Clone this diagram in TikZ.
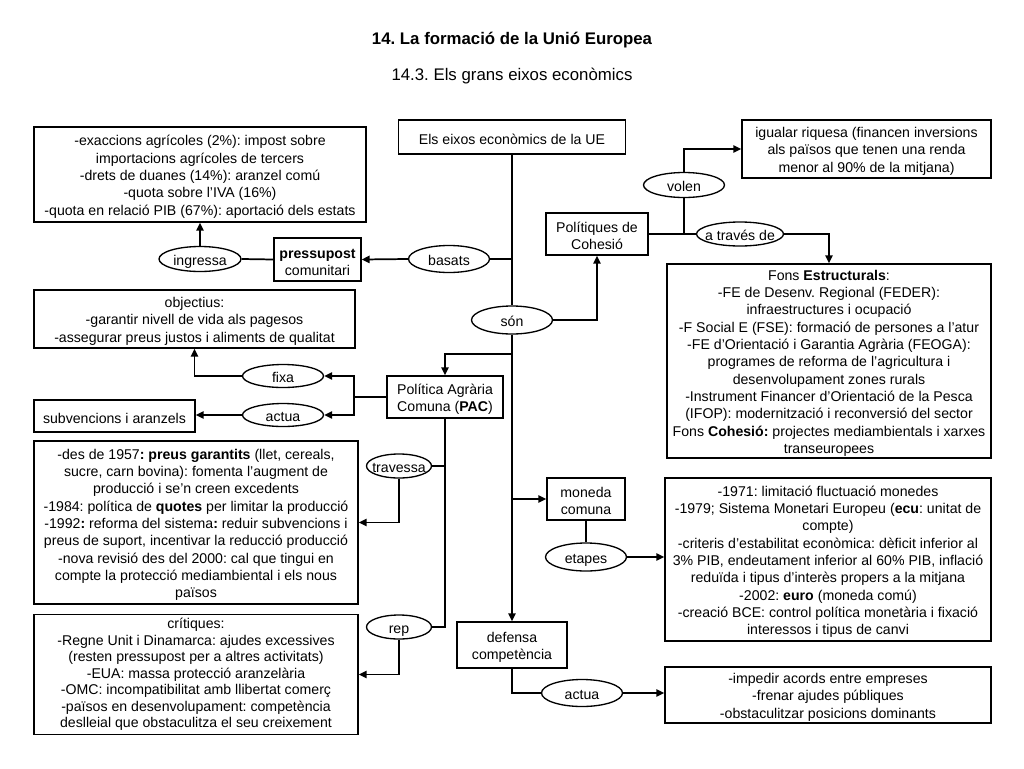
\documentclass[tikz,border=0pt]{standalone}
\usepackage{fontspec}
\setmainfont{Liberation Sans}
\usetikzlibrary{shapes.geometric,arrows.meta}
\frenchspacing
\tikzset{
  txt/.style={font=\fontsize{10.6}{13}\selectfont},
  box/.style 2 args={txt, draw, line width=1pt, rectangle, align=center, inner sep=0pt,
     minimum width=#1*0.75pt, minimum height=#2*0.75pt},
  oval/.style 2 args={txt, draw, line width=1pt, ellipse, inner sep=0pt,
     text height=10.5pt, text depth=1.5pt,
     minimum width=#1*0.75pt, minimum height=#2*0.75pt},
  conn/.style={line width=1.3pt},
  arr/.style={conn, -{Triangle[length=6pt,width=5.5pt]}},
}
\newcommand{\zw}[1]{\makebox[0pt]{#1}}
\newcommand{\fs}{\rule{0pt}{11pt}}
\begin{document}
\begin{tikzpicture}[x=0.75pt,y=-0.75pt]
\useasboundingbox (0,0) rectangle (1024,768);
% titles
\node[font=\fontsize{12.6}{15}\selectfont\bfseries] (title) at (512,40) {14. La formació de la Unió Europea};
\node[font=\fontsize{12.6}{15}\selectfont] (subtitle) at (512,76) {14.3. Els grans eixos econòmics};
% nodes
\node[box={227}{34}] (top) at (512,137) {\fs Els eixos econòmics de la UE};
\node[box={332}{95}] (A) at (200,174.5) {\fs-exaccions agrícoles (2\%): impost sobre\\importacions agrícoles de tercers\\-drets de duanes (14\%): aranzel comú\\-quota sobre l’IVA (16\%)\\-quota en relació PIB (67\%): aportació dels estats};
\node[oval={82}{25}] (ingressa) at (200,259) {\zw{ingressa}};
\node[box={87}{43}] (press) at (317.5,259.5) {\fs\textbf{pressupost}\\comunitari};
\node[oval={81}{27}] (basats) at (449,259) {\zw{basats}};
\node[oval={81}{28}] (son) at (512,320) {\zw{són}};
\node[box={102}{42}] (pol) at (597,234) {\fs Polítiques de\\Cohesió};
\node[oval={81}{25}] (volen) at (684,185) {\zw{volen}};
\node[oval={87}{24}] (trav) at (740,234) {\zw{a través de}};
\node[box={249}{58}] (igual) at (866.5,149) {\fs igualar riquesa (financen inversions\\als països que tenen una renda\\menor al 90\% de la mitjana)};
\node[box={324}{194}] (fons) at (829,361) {\fs Fons \textbf{Estructurals}:\\-FE de Desenv. Regional (FEDER):\\infraestructures i ocupació\\-F Social E (FSE): formació de persones a l’atur\\-FE d’Orientació i Garantia Agrària (FEOGA):\\programes de reforma de l’agricultura i\\desenvolupament zones rurals\\-Instrument Financer d’Orientació de la Pesca\\(IFOP): modernització i reconversió del sector\\Fons \textbf{Cohesió:} projectes mediambientals i xarxes\\transeuropees};
\node[box={321}{58}] (obj) at (194.5,319) {\fs objectius:\\-garantir nivell de vida als pagesos\\-assegurar preus justos i aliments de qualitat};
\node[oval={81}{23}] (fixa) at (283,376) {\zw{fixa}};
\node[oval={81}{23}] (actuaA) at (283,415) {\zw{actua}};
\node[box={161}{32}] (subv) at (114.5,416) {\fs subvencions i aranzels};
\node[box={116}{42}] (pac) at (445,397) {\fs Política Agrària\\Comuna (\textbf{PAC})};
\node[oval={65}{24}] (travessa) at (399,466) {\zw{travessa}};
\node[box={324}{163}] (B) at (196,522.5) {\fs-des de 1957\textbf{: preus garantits} (llet, cereals,\\sucre, carn bovina): fomenta l’augment de\\producció i se’n creen excedents\\-1984: política de \textbf{quotes} per limitar la producció\\-1992\textbf{:} reforma del sistema\textbf{:} reduir subvencions i\\preus de suport, incentivar la reducció producció\\-nova revisió des del 2000: cal que tingui en\\compte la protecció mediambiental i els nous\\països};
\node[oval={65}{24}] (rep) at (399,627) {\zw{rep}};
\node[box={324}{120}, font=\fontsize{10.6}{12.4}\selectfont] (C) at (196,674.5) {crítiques:\\-Regne Unit i Dinamarca: ajudes excessives\\(resten pressupost per a altres activitats)\\-EUA: massa protecció aranzelària\\-OMC: incompatibilitat amb llibertat comerç\\-països en desenvolupament: competència\\deslleial que obstaculitza el seu creixement};
\node[box={78}{42}] (moneda) at (586,499) {\fs moneda\\comuna};
\node[oval={81}{28}] (etapes) at (586,557) {\zw{etapes}};
\node[box={326}{163}] (D) at (828,559.5) {\fs-1971: limitació fluctuació monedes\\-1979; Sistema Monetari Europeu (\textbf{ecu}: unitat de\\compte)\\-criteris d’estabilitat econòmica: dèficit inferior al\\3\% PIB, endeutament inferior al 60\% PIB, inflació\\reduïda i tipus d’interès propers a la mitjana\\-2002: \textbf{euro} (moneda comú)\\-creació BCE: control política monetària i fixació\\interessos i tipus de canvi};
\node[box={110}{46}] (def) at (512,645) {\fs defensa\\competència};
\node[oval={81}{27}] (actuaB) at (582,693) {\zw{actua}};
\node[box={326}{56}] (E) at (828,695) {\fs-impedir acords entre empreses\\-frenar ajudes públiques\\-obstaculitzar posicions dominants};
% junctions
\coordinate (jpac) at (512,354);
\coordinate (jmon) at (512,499);
\coordinate (jvol) at (684,234);
\coordinate (k) at (354,397);
% connectors
\draw[conn] (top.south) -- (son.north);
\draw[conn] (basats.east) -- (basats.east -| top.south);
\draw[arr] (basats.west) -- (press.east);
\draw[conn] (press.west) -- (ingressa.east);
\draw[arr] (ingressa.north) -- (A.south);
\draw[arr] (son.east) -| (pol.south);
\draw[arr] (son.south) -- (def.north);
\draw[arr] (jpac) -| (pac.north);
\draw[arr] (jmon) -- (moneda.west);
\draw[conn] (moneda.south) -- (etapes.north);
\draw[arr] (etapes.east) -- (etapes.east -| D.west);
\draw[conn] (pol.east |- trav.west) -- (trav.west);
\draw[arr] (trav.east) -| (fons.north);
\draw[conn] (jvol) -- (volen.south);
\draw[arr] (volen.north) |- (igual.west);
\draw[conn] (pac.west) -- (k);
\draw[arr] (k) |- (fixa.east);
\draw[arr] (k) |- (actuaA.east);
\draw[arr] (fixa.west) -| (obj.south);
\draw[arr] (actuaA.west) -- (actuaA.west -| subv.east);
\draw[conn] (pac.south) |- (rep.east);
\draw[conn] (travessa.east) -- (travessa.east -| pac.south);
\draw[arr] (travessa.south) |- (B.east);
\draw[arr] (rep.south) |- (C.east);
\draw[conn] (def.south) |- (actuaB.west);
\draw[arr] (actuaB.east) -- (actuaB.east -| E.west);
\end{tikzpicture}
\end{document}
